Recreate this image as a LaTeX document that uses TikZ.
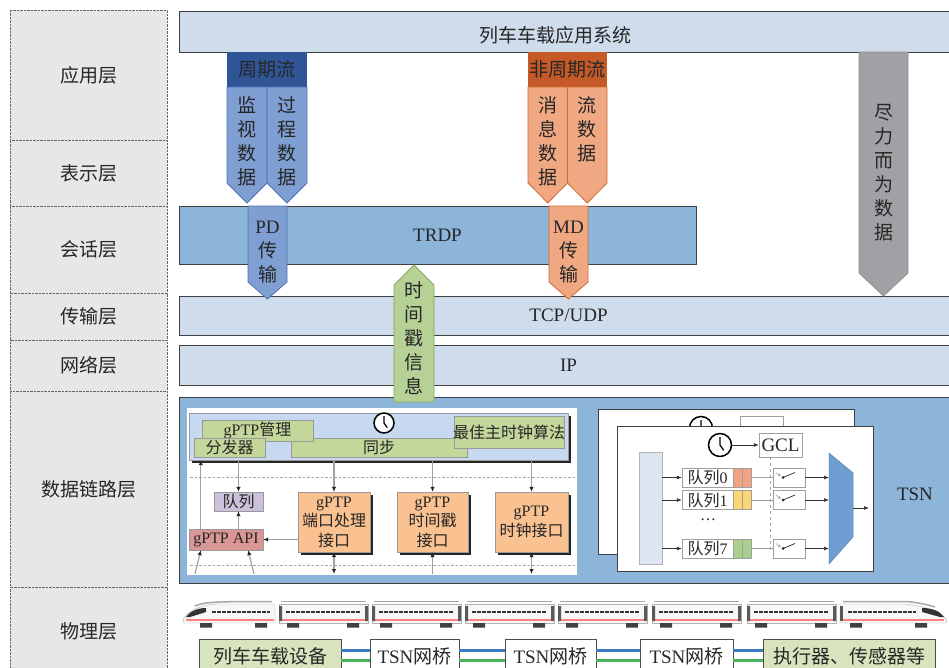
\documentclass[tikz,border=0pt]{standalone}
\usepackage{fontspec}
\setmainfont{Liberation Serif}
\newfontfamily\zh{Noto Sans CJK SC}
\usetikzlibrary{fit,shadows,arrows.meta}

\definecolor{layergray}{HTML}{E7E7E7}
\definecolor{barblue}{HTML}{CFDCEC}
\definecolor{midblue}{HTML}{8DB5DA}
\definecolor{pdblue}{HTML}{7F9ED2}
\definecolor{pdedge}{HTML}{4F73B4}
\definecolor{pdhead}{HTML}{2F5596}
\definecolor{mdorange}{HTML}{EFA881}
\definecolor{mdedge}{HTML}{D06B35}
\definecolor{mdhead}{HTML}{C55A28}
\definecolor{begray}{HTML}{A1A1A5}
\definecolor{tsgreen}{HTML}{B6D196}
\definecolor{tsedge}{HTML}{82A85C}
\definecolor{ptpblue}{HTML}{C6D9F0}
\definecolor{ptpgreen}{HTML}{C4D79B}
\definecolor{qpurple}{HTML}{CCC1DA}
\definecolor{apired}{HTML}{D99795}
\definecolor{ifaceorange}{HTML}{FAC191}
\definecolor{ingressblue}{HTML}{DCE6F2}
\definecolor{muxblue}{HTML}{6F9FD2}
\definecolor{qzero}{HTML}{F2A283}
\definecolor{qone}{HTML}{FAD677}
\definecolor{qseven}{HTML}{A9D08E}
\definecolor{devgreen}{HTML}{D7E4BD}
\definecolor{linkblue}{HTML}{3B7DC4}
\definecolor{linkgreen}{HTML}{47B25A}

\begin{document}
\begin{tikzpicture}[x=1pt,y=-1pt,
 zhfont/.style={font=\zh\fontsize{19}{24}\selectfont,text=black!85},
 enfont/.style={font=\fontsize{19}{24}\selectfont,text=black!85},
 smallfont/.style={font=\zh\fontsize{16}{19.5}\selectfont,text=black!85},
 ztext/.style={label={[zhfont,align=center,inner sep=0]center:#1}},
 etext/.style={label={[enfont,inner sep=0]center:#1}},
 stext/.style={label={[smallfont,align=center,inner sep=0]center:#1}},
 layer/.style={draw=black!60,densely dotted,fill=layergray,inner sep=0},
 lightbar/.style={draw=black!75,line width=0.9pt,fill=barblue,inner sep=0},
 midbar/.style={draw=black!75,line width=0.9pt,fill=midblue,inner sep=0},
 headbox/.style={inner sep=0},
 vtext/.style={zhfont,align=center,inner sep=0},
 pdarrow/.style={draw=pdedge,line width=0.8pt,fill=pdblue},
 mdarrow/.style={draw=mdedge,line width=0.8pt,fill=mdorange},
 bearrow/.style={draw=gray!85,line width=0.8pt,fill=begray},
 tsarrow/.style={draw=tsedge,line width=0.8pt,fill=tsgreen},
 blackshadow/.style={drop shadow={shadow xshift=3pt,shadow yshift=-3pt,fill=black!85,opacity=1}},
 ptpbox/.style={draw=gray!80,fill=ptpblue,inner sep=0,blackshadow},
 greenbox/.style={draw=gray!80,fill=ptpgreen,inner sep=0},
 ifacebox/.style={draw=gray!80,fill=ifaceorange,inner sep=0,blackshadow},
 sepline/.style={draw=gray!70,line width=0.9pt,dash pattern=on 2.5pt off 2pt},
 ptparrow/.style={draw=gray!75,line width=1.1pt,-{Latex[length=5pt,width=4.5pt,color=black!85]}},
 ptpdarrow/.style={draw=gray!75,line width=1.1pt,{Latex[length=5pt,width=4.5pt,color=black!85]}-{Latex[length=5pt,width=4.5pt,color=black!85]}},
 clock/.style={circle,draw=black,line width=1.5pt,fill=white,inner sep=0,
  path picture={\draw[line width=1.3pt] (path picture bounding box.center) -- ++(90:0.34*\pgfkeysvalueof{/pgf/minimum width})
   (path picture bounding box.center) -- ++(-55:0.28*\pgfkeysvalueof{/pgf/minimum width});}},
 tsnpanel/.style={draw=black!75,line width=0.9pt,fill=white,inner sep=0},
 qbox/.style={smallfont,draw=gray!75,fill=white,minimum width=51pt,minimum height=19pt,inner sep=0},
 qslot/.style={draw=gray!75,minimum width=18pt,minimum height=19pt,inner sep=0},
 swbox/.style={draw=gray!75,fill=white,minimum width=32pt,minimum height=19pt,inner sep=0},
 tsnarrow/.style={draw=black!80,line width=0.7pt,-{Latex[length=5pt,width=4pt]}},
 devbox/.style={draw=black!70,line width=0.8pt,fill=devgreen,inner sep=0},
 bridgebox/.style={draw=black!70,line width=0.8pt,fill=white,inner sep=0},
 bluelink/.style={draw=linkblue,line width=3pt},
 greenlink/.style={draw=linkgreen,line width=3pt}]
\useasboundingbox (0,0) rectangle (949,667);
\fill[white] (0,0) rectangle (949,667);
\clip (0,0) rectangle (949,667);

% OSI layer column
\node[layer,fit={(10,10)(167,140)},ztext=应用层] (lapp) {};
\node[layer,fit={(10,140)(167,206)},ztext=表示层] (lpres) {};
\node[layer,fit={(10,206)(167,293)},ztext=会话层] (lsess) {};
\node[layer,fit={(10,293)(167,340)},ztext=传输层] (ltrans) {};
\node[layer,fit={(10,340)(167,391)},ztext=网络层] (lnet) {};
\node[layer,fit={(10,391)(167,587)},ztext=数据链路层] (llink) {};
\node[layer,fit={(10,587)(167,676)},ztext=物理层] (lphy) {};

% protocol bars
\node[lightbar,fit={(179,11)(958,52)}] (appsys) {};
\node[zhfont] (appsystxt) at (555,35) {列车车载应用系统};
\node[midbar,fit={(179,206)(696,264)},etext=TRDP] (trdp) {};
\node[lightbar,fit={(179,296)(958,335)},etext=TCP/UDP] (tcp) {};
\node[lightbar,fit={(179,345)(958,385)},etext=IP] (ip) {};
\node[midbar,fit={(179,397)(958,583)}] (dlink) {};

% periodic / aperiodic flows
\node[headbox,fill=pdhead,fit={(227,52)(307,87)},ztext=周期流] (pdflow) {};
\foreach \x in {227,267}
  \draw[pdarrow] (\x,87) -- ++(40,0) -- ++(0,96) -- ++(-20,20) -- ++(-20,-20) -- cycle;
\node[vtext] (jsdata) at (247,141) {监\\视\\数\\据};
\node[vtext] (gcdata) at (287,141) {过\\程\\数\\据};
\node[headbox,fill=mdhead,fit={(528,52)(607,87)},ztext=非周期流] (mdflow) {};
\foreach \x in {528,567.5}
  \draw[mdarrow] (\x,87) -- ++(39.5,0) -- ++(0,96) -- ++(-19.75,20) -- ++(-19.75,-20) -- cycle;
\node[vtext] (xxdata) at (548,141) {消\\息\\数\\据};
\node[vtext] (lsdata) at (587,129) {流\\数\\据};

\draw[pdarrow] (248,206) -- (287,206) -- (287,282) -- (267.5,299) -- (248,282) -- cycle;
\node[vtext] (pdtx) at (267.5,252) {{\rmfamily PD}\\传\\输};
\draw[mdarrow] (549,206) -- (588,206) -- (588,282) -- (568.5,299) -- (549,282) -- cycle;
\node[vtext] (mdtx) at (568.5,252) {{\rmfamily MD}\\传\\输};

\draw[bearrow] (859,52) -- (908,52) -- (908,273) -- (883.5,296) -- (859,273) -- cycle;
\node[vtext] (bedata) at (884,173) {尽\\力\\而\\为\\数\\据};

\draw[tsarrow] (394,402) -- (394,285) -- (414,265) -- (434,285) -- (434,402) -- cycle;
\node[vtext] (tsinfo) at (414,338) {时\\间\\戳\\信\\息};

% gPTP part of the data link layer
\node[draw=white,fill=white,inner sep=0,fit={(187,408)(576,574)}] (ptparea) {};
\node[ptpbox,fit={(189,413)(568,460)}] (ptp) {};
\node[greenbox,fit={(291,438)(467,457)},stext=同步] (sync) {};
\node[greenbox,fit={(202,420)(313,441)},stext={{\rmfamily gPTP}管理}] (mgmt) {};
\node[greenbox,fit={(194,438)(265,457)},stext=分发器] (disp) {};
\node[greenbox,fit={(454,416)(564,448)},stext=最佳主时钟算法] (bmca) {};
\node[clock,minimum size=20pt] (ptpclk) at (384,423) {};
\draw[sepline] (190,477) -- (575,477);
\draw[sepline] (190,565) -- (575,565);

\node[draw=gray!80,fill=qpurple,inner sep=0,fit={(214,492)(263,511)},stext=队列] (queue) {};
\node[draw=gray!80,fill=apired,inner sep=0,fit={(189,529)(263,550)},stext={\rmfamily gPTP API}] (api) {};
\node[ifacebox,fit={(298,492)(370,552)},stext={{\rmfamily gPTP}\\端口处理\\接口}] (portif) {};
\node[ifacebox,fit={(397,492)(468,552)},stext={{\rmfamily gPTP}\\时间戳\\接口}] (tsif) {};
\node[ifacebox,fit={(495,492)(568,552)},stext={{\rmfamily gPTP}\\时钟接口}] (clkif) {};

\coordinate (lowbus) at (0,574);
\coordinate (apiin1) at (195,574);
\coordinate (apiin2) at (254,574);
\draw[ptparrow] (ptp.south -| queue.north) -- (queue.north);
\foreach \n in {portif,tsif,clkif}
  \draw[ptparrow] (ptp.south -| \n.north) -- (\n.north);
\draw[ptparrow] (api.north -| queue.south) -- (queue.south);
\draw[ptparrow] ([xshift=12pt]api.north west) -- ([xshift=12pt]api.north west |- ptp.south);
\draw[ptparrow] (portif.west |- api.east) -- (api.east);
\draw[ptparrow] (apiin1) -- ([xshift=12pt]api.south west);
\draw[ptparrow] (apiin2) -- ([xshift=-15pt]api.south east);
\draw[ptpdarrow] (portif.south) -- (portif.south |- lowbus);
\draw[ptparrow] (tsif.south |- lowbus) -- (tsif.south);
\draw[ptpdarrow] (clkif.south) -- (clkif.south |- lowbus);

% TSN gate control
\node[tsnpanel,fit={(598,409)(854,554)}] (panelb) {};
\node[clock,minimum size=23pt] (clkb) at (701,428) {};
\node[draw=gray!75,fill=white,inner sep=0,fit={(740,416)(783,440)}] (gclb) {};
\draw[tsnarrow] (clkb) -- (gclb);
\node[tsnpanel,fit={(617,426)(873,571)}] (panelf) {};
\node[clock,minimum size=23pt] (clkf) at (720,445) {};
\node[draw=gray!75,fill=white,inner sep=0,fit={(759,433)(802,457)},etext=GCL] (gcl) {};
\draw[tsnarrow] (clkf) -- (gcl);
\node[draw=gray!60,fill=ingressblue,inner sep=0,fit={(639,452)(662,564)}] (ingress) {};
\coordinate (muxl) at (829,508);
\coordinate (muxr) at (853,508);
\coordinate (tsnout) at (869,508);
\draw[gray!70,dashed,line width=0.6pt] ([xshift=-10pt]gcl.south) -- ([xshift=-10pt,yshift=-2pt]gcl.south |- 0,549);
\foreach \q/\y/\c in {0/477.5/qzero,1/500/qone,7/548.5/qseven} {
  \node[qbox] (q\q) at (707.5,\y) {队列{\rmfamily\q}};
  \node[qslot,fill=\c,anchor=west] (qs\q) at (q\q.east) {};
  \draw[gray!75] (qs\q.north) -- (qs\q.south);
  \node[swbox] (sw\q) at (789,\y) {};
  \draw[tsnarrow] (ingress.east |- q\q.west) -- (q\q.west);
  \draw[gray!75,line width=0.7pt] (qs\q.east) -- (sw\q.west);
  \fill[black!85] ([xshift=-6pt]sw\q.center) circle (1.5pt);
  \draw[black!85,line width=0.7pt] ([xshift=-6pt]sw\q.center) -- ([xshift=6pt,yshift=5pt]sw\q.center);
  \draw[gray!70,line width=0.6pt,-{Latex[length=3pt,width=3pt]}] ([xshift=-13pt,yshift=5pt]sw\q.center) -- ([xshift=-8pt,yshift=1pt]sw\q.center);
  \draw[tsnarrow] (sw\q.east) -- (sw\q.east -| muxl);
}
\node[smallfont] (qdots) at (708,520) {\rmfamily\dots};
\draw[fill=muxblue,draw=muxblue!80!black,line width=0.5pt] (829,453) -- (853,473) -- (853,537) -- (829,564) -- cycle;
\draw[tsnarrow] (muxr) -- (tsnout);
\node[enfont] (tsnlbl) at (915,494) {TSN};

% physical layer: train
\foreach \cx in {277,370,463,556,650,745} {
  \draw[gray!70,line width=1.5pt] (\cx+4,601.5) -- (\cx+89,601.5);
  \draw[draw=gray!60,fill=gray!6] (\cx+2,604) rectangle (\cx+91,623);
  \draw[black!80,line width=2.5pt,dash pattern=on 3.5pt off 1.5pt] (\cx+9,612) -- (\cx+84,612);
  \draw[red!50,line width=2pt] (\cx+3,619.5) -- (\cx+90,619.5);
  \fill[black!65] (\cx+2,606) rectangle (\cx+5,621) (\cx+88,606) rectangle (\cx+91,621);
  \fill[black!75] (\cx+10,623) rectangle (\cx+22,627.5) (\cx+70,623) rectangle (\cx+82,627.5);
}
\draw[draw=gray!60,fill=gray!6] (275,604) -- (218,604) .. controls (198,605) and (186,612) .. (183,620) -- (184,623) -- (275,623) -- cycle;
\draw[gray!70,line width=1.5pt] (195,606) .. controls (205,602) and (212,601.5) .. (272,601.5);
\fill[black!80] (186,617) .. controls (190,611) and (198,608) .. (206,608) -- (206,612) -- (190,617) -- cycle;
\draw[black!80,line width=2.5pt,dash pattern=on 3.5pt off 1.5pt] (212,612) -- (270,612);
\draw[red!50,line width=2pt] (186,619.5) -- (274,619.5);
\fill[black!75] (200,623) rectangle (212,627.5) (255,623) rectangle (267,627.5);
\draw[draw=gray!60,fill=gray!6] (840,604) -- (902,604) .. controls (924,605) and (940,612) .. (947,620) -- (946,623) -- (840,623) -- cycle;
\draw[gray!70,line width=1.5pt] (843,601.5) -- (905,601.5) .. controls (915,602) and (925,604) .. (935,607);
\fill[black!80] (944,617) .. controls (940,611) and (932,608) .. (922,608) -- (922,612) -- (940,617) -- cycle;
\draw[black!80,line width=2.5pt,dash pattern=on 3.5pt off 1.5pt] (848,612) -- (916,612);
\draw[red!50,line width=2pt] (841,619.5) -- (944,619.5);
\fill[black!65] (840,606) rectangle (843,621);
\fill[black!75] (850,623) rectangle (862,627.5) (915,623) rectangle (927,627.5);

% physical layer: devices and bridges
\node[devbox,fit={(199,639)(341,673)},ztext=列车车载设备] (dev) {};
\node[bridgebox,fit={(370,639)(459,673)},ztext={{\rmfamily TSN}网桥}] (br1) {};
\node[bridgebox,fit={(505,639)(596,673)},ztext={{\rmfamily TSN}网桥}] (br2) {};
\node[bridgebox,fit={(640,639)(733,673)},ztext={{\rmfamily TSN}网桥}] (br3) {};
\node[devbox,fit={(763,639)(935,673)},ztext=执行器、传感器等] (act) {};
\foreach \a/\b in {dev/br1,br1/br2,br2/br3,br3/act} {
  \draw[bluelink] ([yshift=6pt]\a.east) -- ([yshift=6pt]\b.west);
  \draw[greenlink] ([yshift=-4pt]\a.east) -- ([yshift=-4pt]\b.west);
}
\end{tikzpicture}
\end{document}
